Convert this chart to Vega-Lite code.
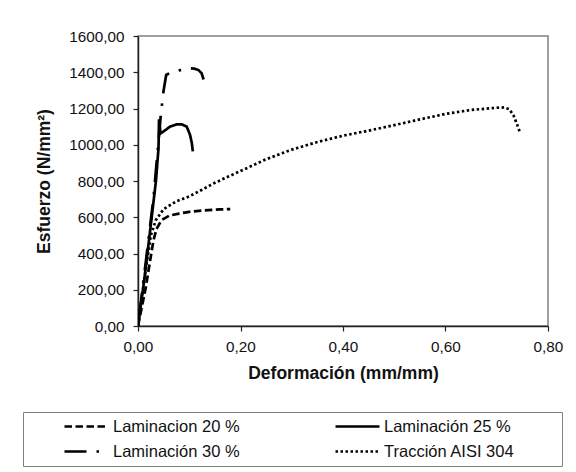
{
  "$schema": "https://vega.github.io/schema/vega-lite/v6.json",
  "width": 410,
  "height": 290,
  "autosize": {"type": "none"},
  "padding": {"left": 138, "top": 36, "right": 28, "bottom": 146},
  "background": "white",
  "config": {
    "font": "Liberation Sans",
    "view": {"stroke": "#808080", "strokeWidth": 1.5},
    "axis": {"grid": false, "domainColor": "#222", "domainWidth": 1.5, "tickColor": "#222", "tickWidth": 1.2, "labelColor": "#111", "titleColor": "#111", "labelFont": "Liberation Sans", "titleFont": "Liberation Sans"}
  },
  "data": {
    "values": [
      {"serie": "Laminacion 20 %", "o": 1, "def": 0.0, "esf": 0},
      {"serie": "Laminacion 20 %", "o": 2, "def": 0.015, "esf": 210},
      {"serie": "Laminacion 20 %", "o": 3, "def": 0.03, "esf": 470},
      {"serie": "Laminacion 20 %", "o": 4, "def": 0.036, "esf": 535},
      {"serie": "Laminacion 20 %", "o": 5, "def": 0.046, "esf": 585},
      {"serie": "Laminacion 20 %", "o": 6, "def": 0.062, "esf": 610},
      {"serie": "Laminacion 20 %", "o": 7, "def": 0.08, "esf": 620},
      {"serie": "Laminacion 20 %", "o": 8, "def": 0.1, "esf": 630},
      {"serie": "Laminacion 20 %", "o": 9, "def": 0.13, "esf": 638},
      {"serie": "Laminacion 20 %", "o": 10, "def": 0.16, "esf": 643},
      {"serie": "Laminacion 20 %", "o": 11, "def": 0.18, "esf": 645},
      {"serie": "Laminación 25 %", "o": 1, "def": 0.0, "esf": 0},
      {"serie": "Laminación 25 %", "o": 2, "def": 0.012, "esf": 250},
      {"serie": "Laminación 25 %", "o": 3, "def": 0.023, "esf": 510},
      {"serie": "Laminación 25 %", "o": 4, "def": 0.035, "esf": 800},
      {"serie": "Laminación 25 %", "o": 5, "def": 0.04, "esf": 980},
      {"serie": "Laminación 25 %", "o": 6, "def": 0.041, "esf": 1140},
      {"serie": "Laminación 25 %", "o": 7, "def": 0.044, "esf": 1062},
      {"serie": "Laminación 25 %", "o": 8, "def": 0.052, "esf": 1078},
      {"serie": "Laminación 25 %", "o": 9, "def": 0.0625, "esf": 1100},
      {"serie": "Laminación 25 %", "o": 10, "def": 0.075, "esf": 1112},
      {"serie": "Laminación 25 %", "o": 11, "def": 0.085, "esf": 1113},
      {"serie": "Laminación 25 %", "o": 12, "def": 0.095, "esf": 1100},
      {"serie": "Laminación 25 %", "o": 13, "def": 0.1015, "esf": 1055},
      {"serie": "Laminación 25 %", "o": 14, "def": 0.105, "esf": 1010},
      {"serie": "Laminación 25 %", "o": 15, "def": 0.107, "esf": 963},
      {"serie": "Laminación 30 %", "o": 1, "def": 0.0, "esf": 0},
      {"serie": "Laminación 30 %", "o": 2, "def": 0.015, "esf": 350},
      {"serie": "Laminación 30 %", "o": 3, "def": 0.03, "esf": 700},
      {"serie": "Laminación 30 %", "o": 4, "def": 0.045, "esf": 1180},
      {"serie": "Laminación 30 %", "o": 5, "def": 0.05, "esf": 1300},
      {"serie": "Laminación 30 %", "o": 6, "def": 0.055, "esf": 1385},
      {"serie": "Laminación 30 %", "o": 7, "def": 0.065, "esf": 1400},
      {"serie": "Laminación 30 %", "o": 8, "def": 0.08, "esf": 1410},
      {"serie": "Laminación 30 %", "o": 9, "def": 0.1, "esf": 1422},
      {"serie": "Laminación 30 %", "o": 10, "def": 0.11, "esf": 1420},
      {"serie": "Laminación 30 %", "o": 11, "def": 0.118, "esf": 1412},
      {"serie": "Laminación 30 %", "o": 12, "def": 0.124, "esf": 1395},
      {"serie": "Laminación 30 %", "o": 13, "def": 0.128, "esf": 1360},
      {"serie": "Tracción AISI 304", "o": 1, "def": 0.0, "esf": 0},
      {"serie": "Tracción AISI 304", "o": 2, "def": 0.012, "esf": 250},
      {"serie": "Tracción AISI 304", "o": 3, "def": 0.025, "esf": 500},
      {"serie": "Tracción AISI 304", "o": 4, "def": 0.035, "esf": 585},
      {"serie": "Tracción AISI 304", "o": 5, "def": 0.05, "esf": 645},
      {"serie": "Tracción AISI 304", "o": 6, "def": 0.075, "esf": 688},
      {"serie": "Tracción AISI 304", "o": 7, "def": 0.1, "esf": 715},
      {"serie": "Tracción AISI 304", "o": 8, "def": 0.125, "esf": 752},
      {"serie": "Tracción AISI 304", "o": 9, "def": 0.15, "esf": 790},
      {"serie": "Tracción AISI 304", "o": 10, "def": 0.175, "esf": 823},
      {"serie": "Tracción AISI 304", "o": 11, "def": 0.2, "esf": 855},
      {"serie": "Tracción AISI 304", "o": 12, "def": 0.25, "esf": 920},
      {"serie": "Tracción AISI 304", "o": 13, "def": 0.3, "esf": 973},
      {"serie": "Tracción AISI 304", "o": 14, "def": 0.35, "esf": 1015},
      {"serie": "Tracción AISI 304", "o": 15, "def": 0.4, "esf": 1050},
      {"serie": "Tracción AISI 304", "o": 16, "def": 0.45, "esf": 1078},
      {"serie": "Tracción AISI 304", "o": 17, "def": 0.5, "esf": 1108},
      {"serie": "Tracción AISI 304", "o": 18, "def": 0.55, "esf": 1140},
      {"serie": "Tracción AISI 304", "o": 19, "def": 0.6, "esf": 1170},
      {"serie": "Tracción AISI 304", "o": 20, "def": 0.65, "esf": 1192},
      {"serie": "Tracción AISI 304", "o": 21, "def": 0.7, "esf": 1204},
      {"serie": "Tracción AISI 304", "o": 22, "def": 0.715, "esf": 1206},
      {"serie": "Tracción AISI 304", "o": 23, "def": 0.725, "esf": 1195},
      {"serie": "Tracción AISI 304", "o": 24, "def": 0.733, "esf": 1160},
      {"serie": "Tracción AISI 304", "o": 25, "def": 0.74, "esf": 1110},
      {"serie": "Tracción AISI 304", "o": 26, "def": 0.745, "esf": 1070}
    ]
  },
  "mark": {"type": "line", "color": "black", "strokeCap": "butt", "strokeDashOffset": 33, "clip": true},
  "encoding": {
    "x": {
      "field": "def", "type": "quantitative",
      "scale": {"domain": [0, 0.8], "nice": false, "zero": false},
      "axis": {"values": [0, 0.2, 0.4, 0.6, 0.8], "labelExpr": "replace(format(datum.value, '.2f'), '.', ',')", "labelFlush": false, "labelFontSize": 15.3, "labelPadding": 8, "tickSize": 5, "title": "Deformación (mm/mm)", "titleFontSize": 17.5, "titleFontWeight": "bold", "titlePadding": 10}
    },
    "y": {
      "field": "esf", "type": "quantitative",
      "scale": {"domain": [0, 1600], "nice": false},
      "axis": {"values": [0, 200, 400, 600, 800, 1000, 1200, 1400, 1600], "labelExpr": "replace(format(datum.value, '.2f'), '.', ',')", "labelFlush": false, "labelFontSize": 15.3, "labelPadding": 9, "tickSize": 5, "title": "Esfuerzo (N/mm²)", "titleFontSize": 17.5, "titleFontWeight": "bold", "titlePadding": 15}
    },
    "order": {"field": "o", "type": "quantitative"},
    "strokeWidth": {
      "field": "serie", "type": "nominal",
      "scale": {
        "domain": ["Laminacion 20 %", "Laminación 25 %", "Laminación 30 %", "Tracción AISI 304"],
        "range": [2.7, 2.7, 3.3, 2.7]
      },
      "legend": null
    },
    "strokeDash": {
      "field": "serie", "type": "nominal",
      "scale": {
        "domain": ["Laminacion 20 %", "Laminación 25 %", "Laminación 30 %", "Tracción AISI 304"],
        "range": [[7.5, 3.5], [1, 0], [22, 10, 2.5, 10], [2.5, 2.5]]
      },
      "legend": {
        "title": "\u00a0",
        "titleOrient": "right",
        "titlePadding": 41,
        "titleFontSize": 6,
        "orient": "none",
        "legendX": -115,
        "legendY": 376,
        "direction": "horizontal",
        "columns": 2,
        "symbolType": "stroke",
        "symbolSize": 1936,
        "clipHeight": 17,
        "symbolStrokeWidth": 2.7,
        "symbolStrokeColor": "black",
        "symbolDashOffset": 0,
        "symbolOffset": 34,
        "labelFontSize": 16.5,
        "labelFont": "Liberation Sans",
        "labelColor": "#111",
        "labelOffset": 3,
        "labelLimit": 300,
        "rowPadding": 8,
        "columnPadding": 60,
        "padding": 6,
        "strokeColor": "#808080",
        "fillColor": "white"
      }
    }
  }
}
